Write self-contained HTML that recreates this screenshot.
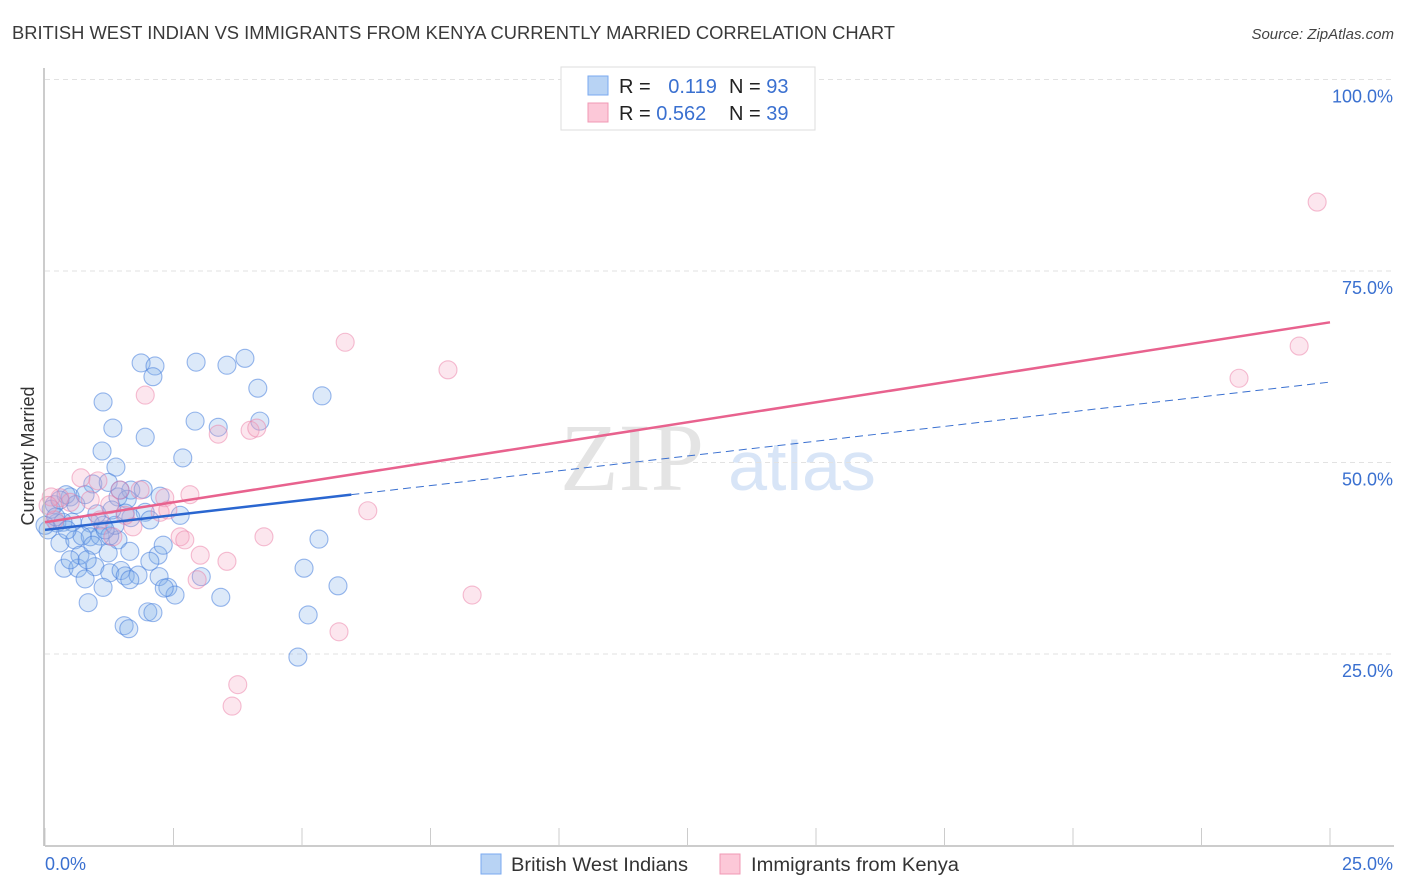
<!DOCTYPE html>
<html><head><meta charset="utf-8">
<style>
body{margin:0;background:#fff;font-family:"Liberation Sans",sans-serif;}
#wrap{position:relative;width:1406px;height:892px;overflow:hidden;}
</style></head>
<body>
<div id="wrap">
<svg id="chart" width="1406" height="892" xmlns="http://www.w3.org/2000/svg">
  <text x="12" y="39" font-size="18" fill="#3a3a3a" textLength="883" lengthAdjust="spacingAndGlyphs">BRITISH WEST INDIAN VS IMMIGRANTS FROM KENYA CURRENTLY MARRIED CORRELATION CHART</text>
  <text x="1394" y="39" font-size="15" fill="#444" text-anchor="end" font-style="italic">Source: ZipAtlas.com</text>
  <text x="34" y="456" font-size="18" fill="#333" text-anchor="middle" transform="rotate(-90 34 456)">Currently Married</text>
  <g>
    <text x="632" y="490" font-size="96" fill="#e4e4e4" text-anchor="middle" font-family="Liberation Serif, serif">ZIP</text>
    <text x="802" y="490" font-size="70" fill="#d8e5f7" text-anchor="middle">atlas</text>
  </g>
  <g id="grid"></g>
  <g id="pts"></g>
  <g id="lines"></g>
  <g id="axes"></g>
  <g>
    <rect x="561" y="67" width="254" height="63" fill="#fff" stroke="#ddd"/>
    <rect x="588" y="76" width="20" height="19" fill="#b8d3f4" stroke="#7aaaf0"/>
    <rect x="588" y="103" width="20" height="19" fill="#fcc8d8" stroke="#f099b4"/>
    <text x="619" y="93" font-size="20" fill="#222">R = <tspan fill="#3a70d0" dx="12">0.119</tspan></text>
    <text x="729" y="93" font-size="20" fill="#222">N = <tspan fill="#3a70d0">93</tspan></text>
    <text x="619" y="120" font-size="20" fill="#222">R = <tspan fill="#3a70d0">0.562</tspan></text>
    <text x="729" y="120" font-size="20" fill="#222">N = <tspan fill="#3a70d0">39</tspan></text>
  </g>
  <g>
    <rect x="481" y="854" width="20" height="20" fill="#b8d3f4" stroke="#7aaaf0"/>
    <text x="511" y="871" font-size="19" fill="#333" textLength="177" lengthAdjust="spacingAndGlyphs">British West Indians</text>
    <rect x="720" y="854" width="20" height="20" fill="#fcc8d8" stroke="#f099b4"/>
    <text x="751" y="871" font-size="19" fill="#333" textLength="208" lengthAdjust="spacingAndGlyphs">Immigrants from Kenya</text>
  </g>
</svg>
</div>
<script>
const xTicks=[0,2.5,5,7.5,10,12.5,15,17.5,20,22.5,25];
const yTicks=[25,50,75,100];
const yTickLabels=["25.0%","50.0%","75.0%","100.0%"];
const xEndLabels=["0.0%","25.0%"];
const blueX=[1.87,2.14,2.10,2.94,3.54,3.89,1.13,4.14,5.39,1.32,1.95,2.92,3.37,4.18,1.11,2.68,1.38,0.18,0.49,0.93,1.23,1.42,1.67,1.91,2.24,1.60,1.95,1.67,0.23,0.53,0.88,1.13,0.29,0.58,0.88,1.07,1.42,0.37,0.64,1.23,1.65,2.20,2.30,0.97,1.26,1.48,1.56,2.04,2.22,2.39,2.53,2.32,3.04,3.42,0.78,1.13,0.84,1.54,1.63,2.00,2.10,5.04,5.33,5.70,5.12,4.92,0.06,0.12,0.35,0.72,1.26,1.56,1.01,1.36,0.00,0.41,0.68,1.81,2.63,2.04,0.21,1.17,0.49,0.93,1.46,1.30,0.43,0.60,0.82,1.65,0.29,0.78];
const blueY=[63.0,62.6,61.2,63.1,62.7,63.6,57.9,59.7,58.7,54.5,53.3,55.4,54.6,55.4,51.5,50.6,49.4,44.5,45.5,47.2,47.4,45.5,46.4,46.5,45.6,45.2,43.5,42.8,42.1,42.2,42.1,41.8,39.5,39.9,40.3,40.4,39.9,36.2,36.2,38.2,38.4,37.9,39.2,36.4,35.6,35.9,35.2,37.1,35.1,33.7,32.7,33.6,35.1,32.4,34.8,33.7,31.7,28.7,28.3,30.5,30.4,36.2,40.0,33.9,30.1,24.6,41.2,43.9,42.2,40.4,40.4,43.4,43.3,41.8,41.8,45.8,37.9,35.3,43.1,42.5,42.9,41.2,37.3,39.2,46.4,43.8,41.2,44.5,37.3,34.7,45.1,45.8];
const pinkX=[24.75,24.40,23.23,5.84,7.84,1.95,3.37,3.99,4.12,0.70,1.03,1.46,1.85,2.33,2.82,0.29,0.49,0.12,1.26,1.71,2.24,2.39,2.63,2.72,3.02,3.54,4.26,6.28,8.31,5.72,3.75,3.64,2.96,1.32,0.19,0.06,1.07,1.56,0.88];
const pinkY=[84.0,65.2,61.0,65.7,62.1,58.8,53.7,54.2,54.5,48.0,47.6,46.4,46.4,45.4,45.8,45.4,44.8,45.5,44.5,41.6,43.5,43.8,40.3,39.9,37.9,37.1,40.3,43.7,32.7,27.9,21.0,18.2,34.7,40.3,42.5,44.4,42.5,43.1,45.1];
const pinkTrend=[42.2,68.3];
const blueTrend=[41.2,60.5];
const blueSolidEnd=5.96;

const NS="http://www.w3.org/2000/svg";
const sx=v=>45+v*(1330-45)/25;
const sy=v=>845.5-v*7.66;
function mk(tag,attrs,parent){const e=document.createElementNS(NS,tag);for(const k in attrs)e.setAttribute(k,attrs[k]);parent.appendChild(e);return e;}
const grid=document.getElementById('grid'),pts=document.getElementById('pts'),lines=document.getElementById('lines'),axes=document.getElementById('axes');
yTicks.forEach((t,i)=>{
  const l=mk('line',{x1:45,x2:1394,y1:sy(t),y2:sy(t),stroke:'#e2e2e2','stroke-dasharray':'5,4'},grid);
  
  
  const tx=mk('text',{x:1393,y:sy(t)+23,'font-size':18,fill:'#3a70d0','text-anchor':'end'},axes);
  tx.textContent=yTickLabels[i];
  
  
});
const ax=mk('line',{x1:45,x2:1394,y1:846,y2:846,stroke:'#bbb','stroke-width':1.5},axes);


const ay=mk('line',{x1:44,x2:44,y1:68,y2:846,stroke:'#bbb','stroke-width':1.5},axes);


xTicks.forEach(t=>{
  const l=mk('line',{x1:sx(t),x2:sx(t),y1:828,y2:846,stroke:'#ccc'},axes);
  
  
});
const xl0=mk('text',{x:45,y:870,'font-size':18,fill:'#3a70d0'},axes);xl0.textContent=xEndLabels[0];


const xl1=mk('text',{x:1393,y:870,'font-size':18,fill:'#3a70d0','text-anchor':'end'},axes);xl1.textContent=xEndLabels[1];


blueX.forEach((x,i)=>{
  const c=mk('circle',{cx:sx(x),cy:sy(blueY[i]),r:9,fill:'rgba(130,175,235,0.28)',stroke:'rgba(70,125,220,0.55)','stroke-width':1.1},pts);
  
  
});
pinkX.forEach((x,i)=>{
  const c=mk('circle',{cx:sx(x),cy:sy(pinkY[i]),r:9,fill:'rgba(245,165,195,0.28)',stroke:'rgba(235,125,165,0.5)','stroke-width':1.1},pts);
  
  
});
const bAt=x=>blueTrend[0]+(blueTrend[1]-blueTrend[0])*x/25;
const bd=mk('line',{x1:sx(blueSolidEnd),y1:sy(bAt(blueSolidEnd)),x2:sx(25),y2:sy(blueTrend[1]),stroke:'#3a70d0','stroke-width':1,'stroke-dasharray':'8,5'},lines);


const pl=mk('line',{x1:sx(0),y1:sy(pinkTrend[0]),x2:sx(25),y2:sy(pinkTrend[1]),stroke:'#e8628e','stroke-width':2.5},lines);


const bl=mk('line',{x1:sx(0),y1:sy(blueTrend[0]),x2:sx(blueSolidEnd),y2:sy(bAt(blueSolidEnd)),stroke:'#2a66d0','stroke-width':2.5},lines);


</script>
</body></html>
